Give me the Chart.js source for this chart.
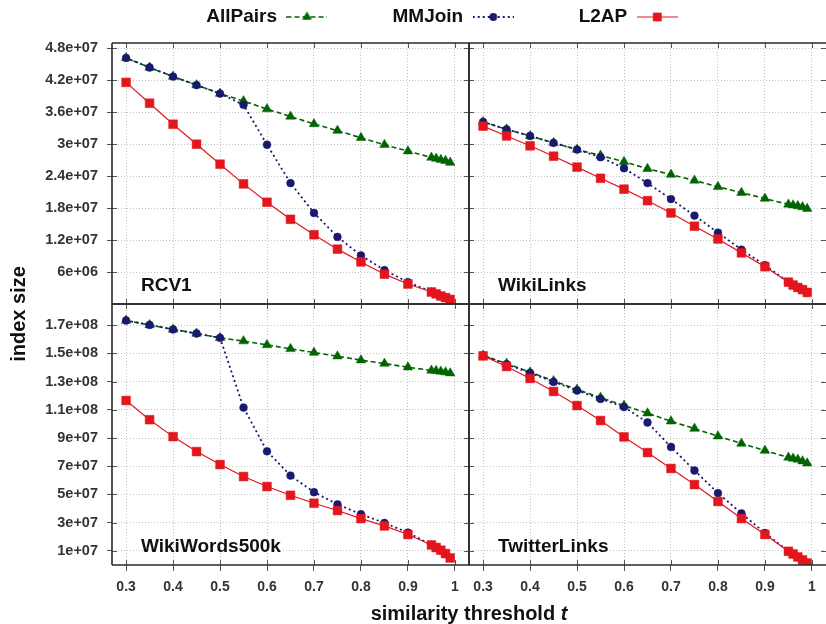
<!DOCTYPE html>
<html><head><meta charset="utf-8">
<script src="https://cdn.jsdelivr.net/npm/chart.js@4/dist/chart.umd.min.js"></script>
<style>html,body{margin:0;padding:0;background:#fff}#wrap{width:826px;height:624px;position:relative}</style>
</head><body><div id="wrap"><canvas id="c" width="826" height="624"></canvas></div>
<script>
// ---------- data ----------
const thresholds = [0.3,0.35,0.4,0.45,0.5,0.55,0.6,0.65,0.7,0.75,0.8,0.85,0.9,0.95,0.96,0.97,0.98,0.99];
const xTicks = [0.3,0.4,0.5,0.6,0.7,0.8,0.9,1.0];
const xTickLabels = ['0.3','0.4','0.5','0.6','0.7','0.8','0.9','1'];
const topTicks = [6e6,1.2e7,1.8e7,2.4e7,3e7,3.6e7,4.2e7,4.8e7];
const topTickLabels = ['6e+06','1.2e+07','1.8e+07','2.4e+07','3e+07','3.6e+07','4.2e+07','4.8e+07'];
const bottomTicks = [1e7,3e7,5e7,7e7,9e7,1.1e8,1.3e8,1.5e8,1.7e8];
const bottomTickLabels = ['1e+07','3e+07','5e+07','7e+07','9e+07','1.1e+08','1.3e+08','1.5e+08','1.7e+08'];
const seriesNames = ['AllPairs','MMJoin','L2AP'];
const panelNames = ['RCV1','WikiLinks','WikiWords500k','TwitterLinks'];
const xTitle = 'similarity threshold ';
const xTitleVar = 't';
const yTitle = 'index size';

const rcv1AllPairs = [4.62e7,4.44e7,4.27e7,4.11e7,3.95e7,3.81e7,3.66e7,3.52e7,3.38e7,3.255e7,3.12e7,2.99e7,2.87e7,2.75e7,2.73e7,2.71e7,2.69e7,2.655e7];
const rcv1MMJoin   = [4.62e7,4.44e7,4.27e7,4.11e7,3.95e7,3.74e7,2.99e7,2.27e7,1.71e7,1.26e7,9.11e6,6.37e6,4.1e6,2.3e6,1.9e6,1.5e6,1.2e6,8.6e5];
const rcv1L2AP     = [4.16e7,3.77e7,3.375e7,3.0e7,2.625e7,2.255e7,1.91e7,1.59e7,1.30e7,1.03e7,7.9e6,5.6e6,3.75e6,2.25e6,1.9e6,1.5e6,1.2e6,8.6e5];

const wlAllPairs = [3.418e7,3.28e7,3.155e7,3.025e7,2.90e7,2.79e7,2.67e7,2.54e7,2.43e7,2.32e7,2.20e7,2.09e7,1.98e7,1.87e7,1.856e7,1.84e7,1.82e7,1.79e7];
const wlMMJoin   = [3.418e7,3.28e7,3.155e7,3.025e7,2.90e7,2.756e7,2.55e7,2.27e7,1.97e7,1.66e7,1.34e7,1.02e7,7.3e6,4.1e6,3.56e6,3.1e6,2.7e6,2.17e6];
const wlL2AP     = [3.34e7,3.155e7,2.97e7,2.775e7,2.57e7,2.36e7,2.156e7,1.94e7,1.71e7,1.46e7,1.22e7,9.6e6,7.0e6,4.1e6,3.56e6,3.1e6,2.7e6,2.17e6];

const wwAllPairs = [1.733e8,1.702e8,1.67e8,1.641e8,1.61e8,1.587e8,1.56e8,1.532e8,1.506e8,1.48e8,1.452e8,1.428e8,1.402e8,1.379e8,1.376e8,1.372e8,1.367e8,1.36e8];
const wwMMJoin   = [1.733e8,1.702e8,1.67e8,1.641e8,1.61e8,1.116e8,8.06e7,6.34e7,5.16e7,4.30e7,3.60e7,2.98e7,2.30e7,1.42e7,1.24e7,1.05e7,8.1e6,5.0e6];
const wwL2AP     = [1.166e8,1.03e8,9.1e7,8.04e7,7.12e7,6.27e7,5.56e7,4.94e7,4.38e7,3.86e7,3.29e7,2.77e7,2.16e7,1.42e7,1.24e7,1.05e7,8.1e6,5.0e6];

const twAllPairs = [1.485e8,1.428e8,1.367e8,1.305e8,1.244e8,1.187e8,1.13e8,1.076e8,1.019e8,9.67e7,9.13e7,8.61e7,8.11e7,7.62e7,7.55e7,7.48e7,7.36e7,7.21e7];
const twMMJoin   = [1.485e8,1.423e8,1.362e8,1.298e8,1.237e8,1.177e8,1.12e8,1.01e8,8.37e7,6.7e7,5.1e7,3.66e7,2.27e7,9.7e6,7.8e6,5.7e6,3.6e6,1.4e6];
const twL2AP     = [1.482e8,1.407e8,1.322e8,1.23e8,1.13e8,1.024e8,9.08e7,7.97e7,6.84e7,5.7e7,4.5e7,3.29e7,2.16e7,9.7e6,7.8e6,5.7e6,3.6e6,1.4e6];

// ---------- styles ----------
const GREEN = '#006400', NAVY = '#191970', RED = '#e3161d';
const FONT = '"Liberation Sans", Arial, Helvetica, sans-serif';
const seriesStyles = [
  {color: GREEN, width: 1.6, dash: [5,3], point: 'triangle', radius: 5.5, order: 2},
  {color: NAVY, width: 1.8, dash: [2,3], point: 'circle', radius: 3.9, order: 1},
  {color: RED, width: 1.2, dash: [], point: 'rect', radius: 6.2, order: 0}
];
const panels = [
  {name: panelNames[0], x: 'x1', y: 'yTop', series: [rcv1AllPairs, rcv1MMJoin, rcv1L2AP]},
  {name: panelNames[1], x: 'x2', y: 'yTop', series: [wlAllPairs, wlMMJoin, wlL2AP]},
  {name: panelNames[2], x: 'x1', y: 'yBot', series: [wwAllPairs, wwMMJoin, wwL2AP]},
  {name: panelNames[3], x: 'x2', y: 'yBot', series: [twAllPairs, twMMJoin, twL2AP]}
];

const datasets = [];
panels.forEach(p => {
  p.series.forEach((vals, si) => {
    const st = seriesStyles[si];
    datasets.push({
      label: seriesNames[si],
      data: thresholds.map((t, i) => ({x: t, y: vals[i]})),
      xAxisID: p.x, yAxisID: p.y,
      borderColor: st.color, backgroundColor: st.color,
      borderWidth: st.width, borderDash: st.dash,
      pointStyle: st.point, pointRadius: st.radius,
      pointBackgroundColor: st.color, pointBorderColor: st.color, pointBorderWidth: 0.5,
      tension: 0, fill: false, order: st.order
    });
  });
});

// legend icons (line + marker)
const ICON_W = 41;
function makeIcon(st) {
  const c = document.createElement('canvas');
  c.width = ICON_W; c.height = 14;
  const g = c.getContext('2d');
  const cx = ICON_W / 2;
  g.strokeStyle = st.color; g.fillStyle = st.color;
  g.lineWidth = st.width; g.setLineDash(st.dash);
  g.beginPath(); g.moveTo(0, 7); g.lineTo(ICON_W, 7); g.stroke();
  g.setLineDash([]);
  g.beginPath();
  if (st.point === 'triangle') {
    const r = st.radius;
    g.moveTo(cx, 7 - r); g.lineTo(cx + r * 0.866, 7 + r / 2); g.lineTo(cx - r * 0.866, 7 + r / 2); g.closePath();
  } else if (st.point === 'circle') {
    g.arc(cx, 7, st.radius, 0, Math.PI * 2);
  } else {
    const s = st.radius * Math.SQRT1_2;
    g.rect(cx - s, 7 - s, 2 * s, 2 * s);
  }
  g.fill();
  return c;
}
const legendIcons = seriesStyles.map(makeIcon);

function xScale() {
  return {
    type: 'linear', position: 'bottom', stack: 'xs', stackWeight: 1, min: 0.27, max: 1.03,
    afterBuildTicks: s => { s.ticks = xTicks.map(v => ({value: v})); },
    afterFit: s => { s.height = 59; s.paddingLeft = 0; s.paddingRight = 0; },
    ticks: {autoSkip: false, maxRotation: 0, minRotation: 0, padding: 8, color: '#333',
      font: {family: FONT, size: 14, weight: 'bold'}, callback: (v, i) => xTickLabels[i]},
    grid: {color: '#c4c4c4', lineWidth: 1, tickLength: 6, tickColor: '#555', tickWidth: 1, tickBorderDash: []},
    border: {display: false, dash: [1, 2]}
  };
}
function yScale(ticks, labels, max, weight) {
  return {
    type: 'linear', position: 'left', stack: 'ys', stackWeight: 1, weight: weight, min: 0, max: max,
    afterBuildTicks: s => { s.ticks = ticks.map(v => ({value: v})); },
    afterFit: s => { s.width = 112; s.paddingTop = 0; s.paddingBottom = 0; },
    ticks: {autoSkip: false, padding: 9, color: '#333',
      font: {family: FONT, size: 14.5, weight: 'bold'}, callback: (v, i) => labels[i]},
    grid: {color: '#c4c4c4', lineWidth: 1, tickLength: 5, tickColor: '#555', tickWidth: 1, tickBorderDash: []},
    border: {display: false, dash: [1, 2]}
  };
}

const LEGEND_PAD = 65;
const LEGEND_TOP = 7.5 - LEGEND_PAD;
const legendFit = {
  id: 'legendFit',
  beforeUpdate(chart) {
    const lg = chart.legend;
    if (lg && !lg._patched) {
      const f = lg.fit;
      lg.fit = function () { f.call(this); this.height = 43 - LEGEND_TOP; };
      const d = lg.draw;
      lg.draw = function () { const c = this.ctx; c.save(); c.translate(29, 0); d.call(this); c.restore(); };
      lg._patched = true;
    }
  }
};

const panelDecor = {
  id: 'panelDecor',
  afterDatasetsDraw(chart) {
    const ctx = chart.ctx;
    ctx.save();
    panels.forEach(p => {
      const xs = chart.scales[p.x], ys = chart.scales[p.y];
      const L = xs.left, R = xs.right, T = ys.top, B = ys.bottom;
      ctx.strokeStyle = '#555'; ctx.lineWidth = 1; ctx.setLineDash([]);
      ctx.beginPath();
      ys.ticks.forEach(t => {
        const py = Math.round(ys.getPixelForValue(t.value)) + 0.5;
        ctx.moveTo(L, py); ctx.lineTo(L + 5, py);
        ctx.moveTo(R, py); ctx.lineTo(R - 5, py);
      });
      xs.ticks.forEach(t => {
        const px = Math.round(xs.getPixelForValue(t.value)) + 0.5;
        ctx.moveTo(px, B); ctx.lineTo(px, B - 5);
        ctx.moveTo(px, T); ctx.lineTo(px, T + 5);
      });
      ctx.stroke();
      ctx.strokeStyle = '#2a2a2a'; ctx.lineWidth = 1.6;
      ctx.beginPath();
      ctx.moveTo(L, T); ctx.lineTo(L, B);
      ctx.moveTo(L, T); ctx.lineTo(R, T);
      ctx.moveTo(L, B); ctx.lineTo(R, B);
      if (R < chart.width - 1) { ctx.moveTo(R, T); ctx.lineTo(R, B); }
      ctx.stroke();
      ctx.fillStyle = '#111';
      ctx.font = 'bold 19px ' + FONT;
      ctx.textAlign = 'left'; ctx.textBaseline = 'alphabetic';
      ctx.fillText(p.name, L + 29, B - 13.5);
    });
    ctx.restore();
  },
  afterDraw(chart) {
    const ctx = chart.ctx, ca = chart.chartArea;
    ctx.save();
    ctx.fillStyle = '#111';
    const f1 = 'bold 20px ' + FONT, f2 = 'italic bold 20px ' + FONT;
    ctx.font = f1; const w1 = ctx.measureText(xTitle).width;
    ctx.font = f2; const w2 = ctx.measureText(xTitleVar).width;
    const x0 = (ca.left + ca.right) / 2 - (w1 + w2) / 2;
    ctx.textAlign = 'left'; ctx.textBaseline = 'alphabetic';
    ctx.font = f1; ctx.fillText(xTitle, x0, chart.height - 4.5);
    ctx.font = f2; ctx.fillText(xTitleVar, x0 + w1, chart.height - 4.5);
    ctx.translate(19, 314); ctx.rotate(-Math.PI / 2);
    ctx.font = f1; ctx.textAlign = 'center'; ctx.textBaseline = 'middle';
    ctx.fillText(yTitle, 0, 0);
    ctx.restore();
  }
};

new Chart(document.getElementById('c'), {
  type: 'line',
  data: {datasets},
  options: {
    responsive: false, animation: false, devicePixelRatio: 1, events: [],
    layout: {autoPadding: false, padding: {top: LEGEND_TOP, left: 0, right: 0, bottom: 0}},
    plugins: {
      tooltip: {enabled: false},
      legend: {
        display: true, position: 'top', align: 'center', rtl: true, reverse: true,
        labels: {
          usePointStyle: true, pointStyleWidth: ICON_W, padding: LEGEND_PAD, color: '#111',
          font: {family: FONT, size: 19, weight: 'bold'},
          generateLabels: () => seriesNames.map((n, i) => ({
            text: n, pointStyle: legendIcons[i], fillStyle: 'rgba(0,0,0,0)',
            strokeStyle: 'rgba(0,0,0,0)', lineWidth: 0, hidden: false, datasetIndex: i, fontColor: '#111'
          }))
        }
      }
    },
    scales: {
      x1: xScale(),
      x2: xScale(),
      yTop: yScale(topTicks, topTickLabels, 4.9e7, 1),
      yBot: yScale(bottomTicks, bottomTickLabels, 1.85e8, 0)
    }
  },
  plugins: [legendFit, panelDecor]
});
</script>
</body></html>
